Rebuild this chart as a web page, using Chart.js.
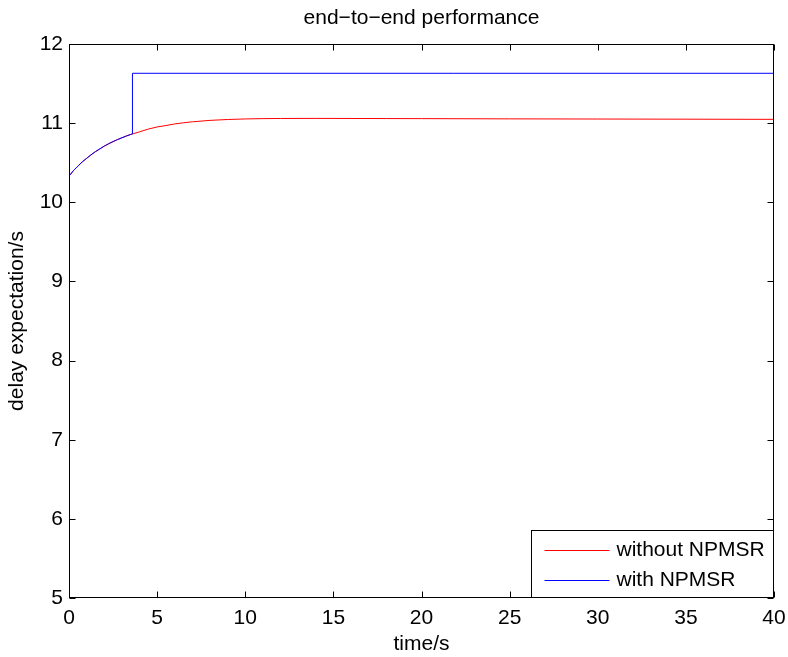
<!DOCTYPE html>
<html>
<head>
<meta charset="utf-8">
<script src="https://cdn.jsdelivr.net/npm/chart.js@4.4.0/dist/chart.umd.min.js"></script>
<style>
  body { margin: 0; background: #fff; }
  #wrap { width: 788px; height: 657px; }
</style>
</head>
<body>
<div id="wrap"><canvas id="delayChart" width="788" height="657"></canvas></div>
<script>
// values
const timeWithout = [0, 0.25, 0.5, 0.75, 1, 1.25, 1.5, 1.75, 2, 2.25, 2.5, 2.75, 3, 3.25, 3.5, 4, 4.5, 5, 5.5, 6, 7, 8, 9, 10, 11, 12, 14, 16, 18, 20, 25, 30, 35, 40];
const delayWithout = [10.33, 10.40, 10.455, 10.51, 10.555, 10.60, 10.64, 10.675, 10.71, 10.74, 10.767, 10.792, 10.815, 10.837, 10.857, 10.89, 10.925, 10.952, 10.97, 10.99, 11.017, 11.035, 11.046, 11.053, 11.057, 11.059, 11.06, 11.059, 11.058, 11.057, 11.054, 11.052, 11.05, 11.048];

const timeWith = [0, 0.25, 0.5, 0.75, 1, 1.25, 1.5, 1.75, 2, 2.25, 2.5, 2.75, 3, 3.25, 3.5, 3.6, 3.6, 40];
const delayWith = [10.33, 10.40, 10.455, 10.51, 10.555, 10.60, 10.64, 10.675, 10.71, 10.74, 10.767, 10.792, 10.815, 10.837, 10.857, 10.866, 11.63, 11.63];

const xTicks = [0, 5, 10, 15, 20, 25, 30, 35, 40];
const yTicks = [5, 6, 7, 8, 9, 10, 11, 12];

const seriesLabels = ["without NPMSR", "with NPMSR"];
const seriesColors = ["#ff0000", "#0000ff"];

const FONT = "'Liberation Sans', Arial, Helvetica, sans-serif";

const toPoints = (xs, ys) => xs.map((x, i) => ({ x: x, y: ys[i] }));

// box round the plot, ticks pointing inwards, title and legend
const framePlugin = {
  id: "frame",
  afterDatasetsDraw(chart) {
    const ctx = chart.ctx;
    const a = chart.chartArea;
    const xs = chart.scales.x;
    const ys = chart.scales.y;
    const L = a.left + 0.5, R = a.right - 0.5, T = a.top + 0.5, B = a.bottom - 0.5;
    const len = 6;

    ctx.save();
    ctx.strokeStyle = "#000";
    ctx.lineWidth = 1;
    ctx.beginPath();
    xTicks.forEach(v => {
      const px = Math.round(xs.getPixelForValue(v)) + 0.5;
      ctx.moveTo(px, B); ctx.lineTo(px, B - len);
      ctx.moveTo(px, T); ctx.lineTo(px, T + len);
    });
    yTicks.forEach(v => {
      const py = Math.round(ys.getPixelForValue(v)) + 0.5;
      ctx.moveTo(L, py); ctx.lineTo(L + len, py);
      ctx.moveTo(R, py); ctx.lineTo(R - len, py);
    });
    ctx.stroke();
    ctx.strokeRect(L, T, R - L, B - T);

    // title centred on the axes
    ctx.fillStyle = "#000";
    ctx.font = "21px " + FONT;
    ctx.textAlign = "center";
    ctx.textBaseline = "middle";
    ctx.fillText("end\u2212to\u2212end performance", (a.left + a.right) / 2, 18);

    // legend in the lower right corner
    const boxW = 242, boxH = 67;
    const bx = R - boxW, by = B - boxH;
    ctx.fillStyle = "#fff";
    ctx.fillRect(bx, by, boxW, boxH);
    ctx.strokeRect(bx, by, boxW, boxH);
    ctx.textAlign = "left";
    seriesLabels.forEach((lab, i) => {
      const ry = Math.round(by + 19 + i * 30) + 0.5;
      ctx.strokeStyle = seriesColors[i];
      ctx.beginPath();
      ctx.moveTo(bx + 13, ry);
      ctx.lineTo(bx + 78, ry);
      ctx.stroke();
      ctx.fillStyle = "#000";
      ctx.fillText(lab, bx + 85, ry);
    });
    ctx.restore();
  }
};

new Chart(document.getElementById("delayChart"), {
  type: "line",
  data: {
    datasets: [
      {
        label: seriesLabels[0],
        data: toPoints(timeWithout, delayWithout),
        borderColor: seriesColors[0],
        borderWidth: 1,
        pointRadius: 0,
        cubicInterpolationMode: "monotone",
        order: 1
      },
      {
        label: seriesLabels[1],
        data: toPoints(timeWith, delayWith),
        borderColor: seriesColors[1],
        borderWidth: 1,
        pointRadius: 0,
        tension: 0,
        order: 0
      }
    ]
  },
  options: {
    responsive: false,
    animation: false,
    layout: { padding: { top: 44, right: 14, left: 0, bottom: 0 } },
    plugins: {
      legend: { display: false },
      title: { display: false },
      tooltip: { enabled: false }
    },
    scales: {
      x: {
        type: "linear",
        min: 0,
        max: 40,
        grid: { display: false, drawTicks: false },
        border: { display: false },
        afterBuildTicks: s => { s.ticks = xTicks.map(v => ({ value: v })); },
        afterFit: s => { s.height = 59; s.paddingLeft = 0; s.paddingRight = 0; },
        ticks: { color: "#000", padding: 8, maxRotation: 0, autoSkip: false, font: { family: FONT, size: 21 } },
        title: { display: true, text: "time/s", color: "#000", padding: { top: 0, bottom: 0 }, font: { family: FONT, size: 21 } }
      },
      y: {
        min: 5,
        max: 12,
        grid: { display: false, drawTicks: false },
        border: { display: false },
        afterBuildTicks: s => { s.ticks = yTicks.map(v => ({ value: v })); },
        afterFit: s => { s.width = 69; s.paddingTop = 0; s.paddingBottom = 0; },
        ticks: { color: "#000", padding: 6, font: { family: FONT, size: 21 } },
        title: { display: true, text: "delay expectation/s", color: "#000", padding: { top: 5, bottom: 0 }, font: { family: FONT, size: 21 } }
      }
    }
  },
  plugins: [framePlugin]
});
</script>
</body>
</html>
